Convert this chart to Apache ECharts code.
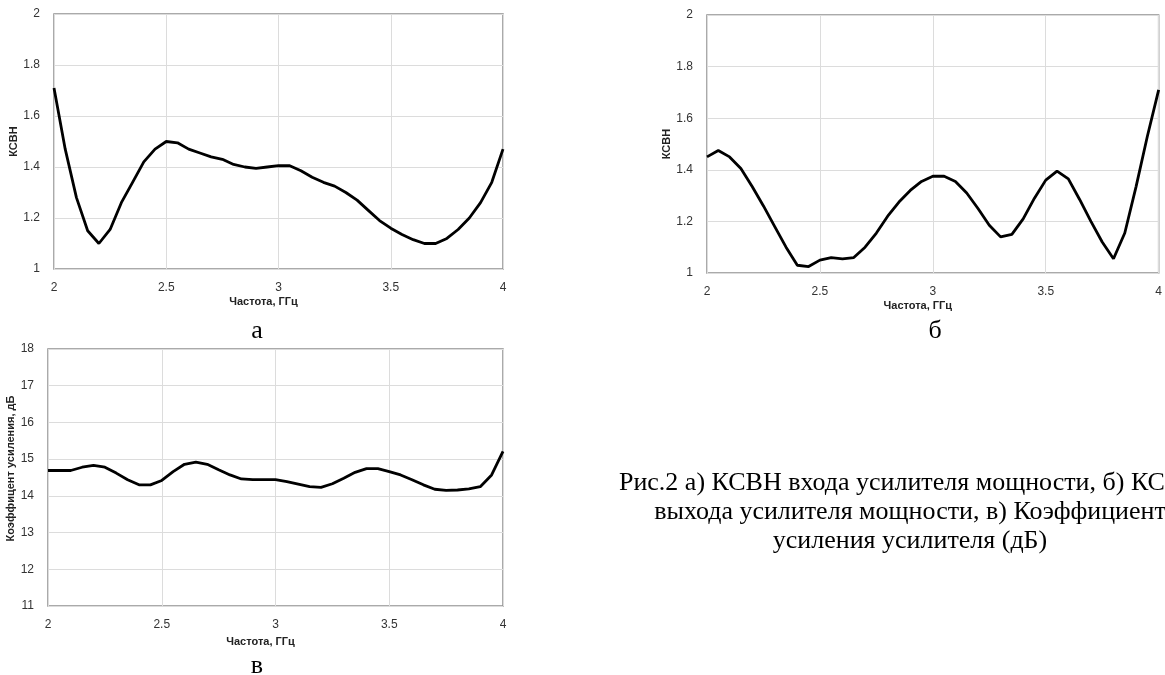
<!DOCTYPE html>
<html>
<head>
<meta charset="utf-8">
<script src="https://cdn.jsdelivr.net/npm/echarts@6/dist/echarts.min.js"></script>
<style>
html,body{margin:0;padding:0;background:#fff;}
#c{width:1165px;height:675px;}
</style>
</head>
<body>
<div id="c"></div>
<script>
// Frequency grid, GHz
const freq = [2.00,2.05,2.10,2.15,2.20,2.25,2.30,2.35,2.40,2.45,2.50,2.55,2.60,2.65,2.70,2.75,2.80,2.85,2.90,2.95,3.00,3.05,3.10,3.15,3.20,3.25,3.30,3.35,3.40,3.45,3.50,3.55,3.60,3.65,3.70,3.75,3.80,3.85,3.90,3.95,4.00];

// а) VSWR input
const vswrIn = [1.71,1.47,1.28,1.15,1.10,1.155,1.26,1.34,1.42,1.47,1.50,1.495,1.47,1.455,1.44,1.43,1.41,1.40,1.395,1.40,1.405,1.405,1.385,1.36,1.34,1.325,1.30,1.27,1.23,1.19,1.16,1.135,1.115,1.10,1.10,1.12,1.155,1.20,1.26,1.34,1.47];

// б) VSWR output
const vswrOut = [1.45,1.475,1.45,1.405,1.335,1.26,1.18,1.10,1.03,1.025,1.05,1.06,1.055,1.06,1.10,1.155,1.22,1.275,1.32,1.355,1.375,1.375,1.355,1.31,1.25,1.185,1.14,1.15,1.21,1.29,1.36,1.395,1.365,1.285,1.20,1.12,1.055,1.155,1.335,1.53,1.71];

// в) Gain, dB
const gain = [14.69,14.69,14.69,14.78,14.83,14.78,14.62,14.44,14.30,14.30,14.42,14.66,14.86,14.92,14.86,14.71,14.57,14.46,14.44,14.44,14.44,14.39,14.32,14.25,14.23,14.33,14.48,14.64,14.74,14.74,14.66,14.57,14.44,14.30,14.18,14.15,14.16,14.19,14.25,14.57,15.21];

const xName = 'Частота, ГГц';
const yNameVswr = 'КСВН';
const yNameGain = 'Коэффицент усиления, дБ';
const panelLabels = ['а', 'б', 'в'];
const captionLines = [
  'Рис.2 а) КСВН входа усилителя мощности, б) КСВН',
  'выхода усилителя мощности, в) Коэффициент',
  'усиления усилителя (дБ)'
];

const pairs = (ys) => freq.map((f, i) => [f, ys[i]]);

const labelStyle = {color: '#333', fontFamily: 'Liberation Sans', fontSize: 12};
const nameStyleX = {color: '#222', fontFamily: 'Liberation Sans', fontSize: 11, fontWeight: 'bold', padding: [0, 30, 0, 0]};
const nameStyleY = {color: '#222', fontFamily: 'Liberation Sans', fontSize: 11, fontWeight: 'bold'};
const gridLine = {show: true, lineStyle: {color: '#dcdcdc', width: 1}};

function xAx(gi, gap) {
  return {
    type: 'value', gridIndex: gi, min: 2, max: 4, interval: 0.5,
    name: xName, nameLocation: 'middle', nameGap: gap, nameTextStyle: nameStyleX,
    axisLine: {show: false}, axisTick: {show: false},
    axisLabel: Object.assign({margin: 13}, labelStyle),
    splitLine: gridLine
  };
}
function yAx(gi, min, max, interval, name, gap, pad) {
  return {
    type: 'value', gridIndex: gi, min: min, max: max, interval: interval,
    name: name, nameLocation: 'middle', nameGap: gap,
    nameTextStyle: Object.assign({padding: pad || 0}, nameStyleY),
    axisLine: {show: false}, axisTick: {show: false},
    axisLabel: Object.assign({margin: 14}, labelStyle),
    splitLine: gridLine
  };
}

const gridCommon = {show: true, borderColor: '#8f8f8f', borderWidth: 1.5, backgroundColor: 'transparent'};

const serif = 'Liberation Serif';
const capFont = '26px "' + serif + '"';
const letterFont = '26px "' + serif + '"';
const chart = echarts.init(document.getElementById('c'), null, {renderer: 'canvas'});
chart.setOption({
  backgroundColor: '#fff',
  animation: false,
  grid: [
    Object.assign({left: 54, top: 14, width: 449, height: 255}, gridCommon),
    Object.assign({left: 707, top: 15, width: 454, height: 258}, gridCommon),
    Object.assign({left: 48, top: 349, width: 455, height: 257}, gridCommon)
  ],
  xAxis: [xAx(0, 27), xAx(1, 27), xAx(2, 30)],
  yAxis: [
    yAx(0, 1, 2, 0.2, yNameVswr, 30),
    yAx(1, 1, 2, 0.2, yNameVswr, 30),
    yAx(2, 11, 18, 1, yNameGain, 30, [0, 0, 0, 18])
  ],
  series: [
    {type: 'line', xAxisIndex: 0, yAxisIndex: 0, data: pairs(vswrIn), showSymbol: false, lineStyle: {color: '#000', width: 2.8}},
    {type: 'line', xAxisIndex: 1, yAxisIndex: 1, data: pairs(vswrOut), showSymbol: false, lineStyle: {color: '#000', width: 2.8}},
    {type: 'line', xAxisIndex: 2, yAxisIndex: 2, data: pairs(gain), showSymbol: false, lineStyle: {color: '#000', width: 2.8}}
  ],
  graphic: [
    {type: 'text', x: 257, y: 318, style: {text: panelLabels[0], font: letterFont, fill: '#000', align: 'center', verticalAlign: 'top'}},
    {type: 'text', x: 935, y: 318, style: {text: panelLabels[1], font: letterFont, fill: '#000', align: 'center', verticalAlign: 'top'}},
    {type: 'text', x: 257, y: 653, style: {text: panelLabels[2], font: letterFont, fill: '#000', align: 'center', verticalAlign: 'top'}},
    {type: 'text', x: 910, y: 470, style: {text: captionLines[0], font: capFont, fill: '#000', align: 'center', verticalAlign: 'top'}},
    {type: 'text', x: 910, y: 499, style: {text: captionLines[1], font: capFont, fill: '#000', align: 'center', verticalAlign: 'top'}},
    {type: 'text', x: 910, y: 528, style: {text: captionLines[2], font: capFont, fill: '#000', align: 'center', verticalAlign: 'top'}}
  ]
});
</script>
</body>
</html>
